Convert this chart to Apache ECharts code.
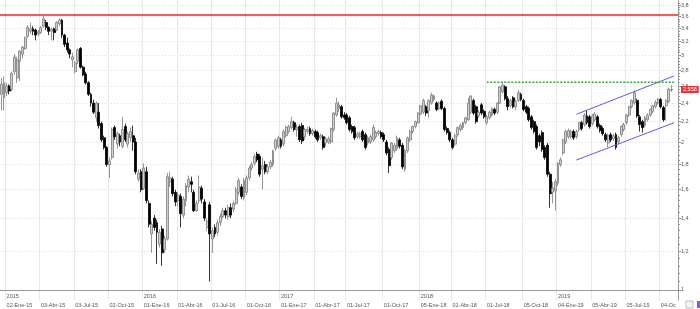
<!DOCTYPE html>
<html>
<head>
<meta charset="utf-8">
<script src="https://cdn.jsdelivr.net/npm/echarts@6/dist/echarts.min.js"></script>
<style>
  html, body { margin: 0; padding: 0; background: #fff; }
  #chart { width: 700px; height: 309px; }
</style>
</head>
<body>
<div id="chart"></div>
<script>
// velas semanales [apertura, cierre, mínimo, máximo]
const w2014 = [[2.50,2.62,2.32,2.70],[2.46,2.64,2.32,2.72]];
const w2015 = [
  [2.52,2.60,2.48,2.64],[2.60,2.54,2.50,2.62],[2.56,2.76,2.54,2.78],[2.78,2.98,2.74,3.02],
  [2.70,2.94,2.64,2.98],[2.92,3.06,2.66,3.08],[3.02,3.12,2.96,3.14],[3.10,3.26,3.08,3.28],
  [3.28,3.42,3.26,3.46],[3.36,3.40,3.32,3.50],[3.40,3.36,3.30,3.44],[3.38,3.30,3.22,3.40],
  [3.32,3.35,3.28,3.38],[3.34,3.42,3.32,3.44],[3.44,3.56,3.42,3.62],[3.50,3.42,3.38,3.54],
  [3.42,3.36,3.30,3.44],[3.36,3.39,3.22,3.42],[3.40,3.34,3.22,3.42],[3.38,3.50,3.36,3.52],
  [3.48,3.54,3.44,3.57],[3.54,3.30,3.26,3.56],[3.30,3.16,3.12,3.32],[3.18,3.08,3.04,3.26],
  [3.08,3.02,2.96,3.10],[2.94,2.98,2.84,3.04],[2.78,2.90,2.76,2.92],[2.92,3.08,2.88,3.10],
  [3.10,2.84,2.82,3.12],[2.84,2.74,2.72,2.86],[2.75,2.64,2.62,2.78],[2.64,2.50,2.48,2.66],
  [2.50,2.40,2.36,2.52],[2.40,2.30,2.28,2.44],[2.24,2.40,2.20,2.42],[2.30,2.16,2.13,2.40],
  [2.18,2.02,2.00,2.20],[2.04,1.95,1.93,2.06],[1.95,1.80,1.78,1.96],[1.80,1.83,1.69,1.86],
  [1.86,2.12,1.84,2.14],[2.14,2.05,2.02,2.16],[1.98,2.08,1.94,2.10],[2.06,2.00,1.96,2.08],
  [1.96,2.12,1.94,2.25],[2.15,2.02,2.00,2.18],[1.98,2.08,1.95,2.10],[2.04,2.10,2.00,2.14],
  [2.06,2.00,1.92,2.16],[2.00,1.74,1.72,2.04],[1.68,1.73,1.66,1.76],[1.74,1.60,1.58,1.76]
];
const w2016 = [
  [1.61,1.77,1.60,1.81],[1.74,1.52,1.50,1.78],[1.50,1.36,1.34,1.52],[1.30,1.36,1.19,1.38],
  [1.40,1.34,1.32,1.42],[1.37,1.31,1.13,1.39],[1.24,1.31,1.22,1.33],[1.33,1.19,1.12,1.35],
  [1.21,1.27,1.19,1.29],[1.27,1.70,1.26,1.73],[1.66,1.69,1.62,1.74],[1.68,1.57,1.55,1.70],
  [1.58,1.51,1.48,1.60],[1.52,1.56,1.48,1.58],[1.55,1.43,1.34,1.57],[1.42,1.53,1.40,1.55],
  [1.52,1.63,1.48,1.65],[1.62,1.68,1.58,1.71],[1.66,1.64,1.58,1.70],[1.58,1.45,1.44,1.60],
  [1.45,1.50,1.44,1.52],[1.52,1.62,1.50,1.71],[1.61,1.53,1.50,1.63],[1.51,1.40,1.38,1.53],
  [1.34,1.38,1.32,1.40],[1.49,1.30,1.04,1.51],[1.27,1.32,1.19,1.34],[1.34,1.30,1.28,1.36],
  [1.31,1.37,1.29,1.39],[1.37,1.41,1.35,1.43],[1.41,1.45,1.40,1.47],[1.45,1.42,1.40,1.47],
  [1.41,1.47,1.39,1.49],[1.47,1.42,1.40,1.50],[1.46,1.50,1.44,1.52],[1.50,1.60,1.49,1.62],
  [1.58,1.67,1.56,1.69],[1.62,1.55,1.53,1.64],[1.54,1.67,1.52,1.69],[1.58,1.69,1.56,1.71],
  [1.69,1.77,1.67,1.79],[1.77,1.80,1.75,1.82],[1.81,1.87,1.79,1.89],[1.89,1.84,1.82,1.91],
  [1.87,1.72,1.70,1.89],[1.76,1.79,1.60,1.86],[1.80,1.74,1.72,1.83],[1.74,1.78,1.72,1.80],
  [1.78,1.82,1.76,1.84],[1.80,1.92,1.78,1.93],[1.94,2.02,1.92,2.03],[1.96,2.04,1.94,2.06]
];
const w2017 = [
  [2.02,1.96,1.94,2.04],[1.98,2.10,1.96,2.12],[2.06,2.14,2.04,2.16],[2.10,2.15,2.08,2.17],
  [2.14,2.20,2.12,2.25],[2.19,2.12,2.10,2.21],[2.12,2.14,2.05,2.17],[2.15,2.02,2.00,2.17],
  [2.16,2.01,1.98,2.19],[2.05,2.12,2.02,2.14],[2.10,2.12,2.08,2.15],[2.13,2.08,2.06,2.15],
  [2.08,2.11,2.06,2.13],[2.10,2.05,2.03,2.12],[2.09,2.02,2.00,2.11],[2.04,2.06,2.02,2.08],
  [2.05,1.95,1.93,2.07],[1.99,2.03,1.96,2.05],[2.00,2.03,1.98,2.05],[2.00,2.13,1.98,2.14],
  [2.12,2.29,2.10,2.30],[2.27,2.40,2.25,2.46],[2.34,2.38,2.30,2.42],[2.36,2.25,2.23,2.38],
  [2.27,2.24,2.22,2.30],[2.27,2.19,2.17,2.29],[2.24,2.12,2.10,2.26],[2.15,2.10,2.08,2.17],
  [2.14,2.04,2.02,2.16],[2.05,2.08,2.03,2.10],[2.05,2.08,2.03,2.10],[2.10,2.02,2.00,2.12],
  [2.07,1.95,1.93,2.09],[1.99,2.04,1.97,2.06],[2.00,2.05,1.98,2.07],[2.02,2.14,2.00,2.17],
  [2.05,2.09,2.03,2.11],[2.08,2.10,2.06,2.12],[2.09,2.05,2.03,2.11],[2.07,2.02,2.00,2.09],
  [2.00,1.90,1.88,2.02],[1.93,1.79,1.73,1.95],[1.86,1.99,1.84,2.00],[1.92,1.97,1.90,1.99],
  [1.94,2.04,1.92,2.06],[2.02,1.96,1.94,2.04],[1.97,1.78,1.76,1.99],[1.76,1.92,1.74,1.94],
  [1.92,2.04,1.90,2.05],[2.02,2.10,2.00,2.12],[2.10,2.15,2.08,2.16],[2.15,2.20,2.13,2.21],
  [2.19,2.29,2.18,2.30]
];
const w2018 = [
  [2.28,2.37,2.27,2.38],[2.30,2.43,2.28,2.45],[2.36,2.29,2.26,2.38],[2.32,2.43,2.24,2.44],
  [2.40,2.49,2.38,2.52],[2.44,2.48,2.42,2.50],[2.40,2.33,2.31,2.42],[2.34,2.40,2.32,2.42],
  [2.42,2.34,2.32,2.44],[2.34,2.12,2.10,2.36],[2.13,2.09,2.07,2.15],[2.09,2.02,2.00,2.11],
  [2.02,1.95,1.93,2.04],[1.98,2.06,1.96,2.08],[2.07,2.14,2.05,2.15],[2.12,2.16,2.10,2.18],
  [2.14,2.19,2.12,2.20],[2.19,2.24,2.17,2.25],[2.22,2.40,2.21,2.46],[2.30,2.48,2.28,2.49],
  [2.43,2.29,2.27,2.45],[2.36,2.20,2.18,2.38],[2.26,2.30,2.24,2.32],[2.38,2.29,2.27,2.40],
  [2.31,2.25,2.23,2.33],[2.19,2.25,2.17,2.27],[2.24,2.30,2.22,2.32],[2.27,2.34,2.25,2.35],
  [2.33,2.29,2.27,2.35],[2.30,2.40,2.28,2.41],[2.40,2.59,2.39,2.60],[2.53,2.61,2.51,2.65],
  [2.59,2.45,2.43,2.61],[2.45,2.36,2.32,2.48],[2.37,2.43,2.35,2.45],[2.46,2.36,2.34,2.48],
  [2.36,2.42,2.32,2.44],[2.43,2.52,2.41,2.55],[2.50,2.44,2.42,2.52],[2.43,2.33,2.31,2.45],
  [2.36,2.30,2.28,2.38],[2.34,2.22,2.20,2.36],[2.25,2.14,2.12,2.27],[2.20,2.10,2.08,2.22],
  [2.15,1.95,1.93,2.17],[2.06,2.00,1.96,2.08],[2.09,1.93,1.91,2.11],[1.95,1.86,1.84,1.97],
  [1.97,1.72,1.70,1.99],[1.72,1.57,1.47,1.74],[1.58,1.61,1.50,1.66],[1.59,1.66,1.45,1.68]
];
const w2019 = [
  [1.65,1.81,1.63,1.82],[1.80,1.84,1.78,1.86],[1.90,2.02,1.88,2.03],[2.00,2.10,1.98,2.12],
  [2.05,2.11,2.03,2.13],[2.05,2.10,2.03,2.12],[2.10,2.04,2.02,2.12],[2.05,2.10,2.03,2.12],
  [2.12,2.19,2.10,2.20],[2.19,2.13,2.11,2.21],[2.17,2.27,2.15,2.29],[2.26,2.19,2.17,2.32],
  [2.25,2.15,2.13,2.27],[2.18,2.26,2.16,2.28],[2.22,2.28,2.20,2.30],[2.25,2.15,2.13,2.27],
  [2.16,2.11,2.09,2.18],[2.13,2.08,2.06,2.15],[2.07,2.02,2.00,2.09],[1.99,2.06,1.95,2.08],
  [2.07,2.02,2.00,2.09],[2.03,2.06,2.01,2.08],[2.07,1.95,1.93,2.09],[2.00,2.04,1.98,2.06],
  [2.07,2.15,2.05,2.16],[2.12,2.17,2.10,2.19],[2.19,2.27,2.17,2.28],[2.27,2.36,2.25,2.37],
  [2.36,2.43,2.34,2.44],[2.40,2.52,2.38,2.55],[2.43,2.26,2.24,2.45],[2.25,2.17,2.10,2.27],
  [2.20,2.14,2.09,2.22],[2.16,2.24,2.14,2.26],[2.22,2.27,2.20,2.29],[2.27,2.33,2.25,2.34],
  [2.31,2.37,2.29,2.38],[2.36,2.41,2.34,2.43],[2.40,2.44,2.38,2.46],[2.44,2.36,2.34,2.46],
  [2.35,2.22,2.20,2.37],[2.37,2.43,2.21,2.44],[2.42,2.56,2.40,2.58],[2.55,2.558,2.53,2.61]
];

// líneas dibujadas: [semana, precio]
const resistance = 3.6;
const channelUpper = [[218, 2.277], [255, 2.725]];
const channelLower = [[218, 1.838], [255, 2.189]];
const greenLevel = [[184, 2.645], [255, 2.645]];

// etiquetas de los ejes
const quarterLabels = ['02-Ene-15','03-Abr-15','03-Jul-15','02-Oct-15','01-Ene-16','01-Abr-16','01-Jul-16','01-Oct-16',
  '01-Ene-17','01-Abr-17','01-Jul-17','01-Oct-17','05-Ene-18','01-Abr-18','01-Jul-18','05-Oct-18',
  '04-Ene-19','05-Abr-19','05-Jul-19','04-Oc'];
const quarterWeeks = [2,15,28,41,54,67,80,93,106,119,131,145,159,171,184,198,211,224,237,250];
const yearLabels = ['2015','2016','2017','2018','2019'];
const yearWeeks = [2,54,106,159,211];
const yLabels = [1,1.2,1.4,1.6,1.8,2,2.2,2.4,2.6,2.8,3,3.2,3.4,3.6,3.8];
const yMin = 0.954, yMax = 3.89;

const lg = v => Math.log10(v);
const candles = [].concat(w2014, w2015, w2016, w2017, w2018, w2019);
const lastClose = w2019[w2019.length - 1][1];

// categorías: viernes desde el 19-dic-2014 (+2 semanas vacías a la derecha)
const meses = ['Ene','Feb','Mar','Abr','May','Jun','Jul','Ago','Sep','Oct','Nov','Dic'];
const weeks = [];
for (let i = 0; i < candles.length + 2; i++) {
  const d = new Date(Date.UTC(2014, 11, 19 + 7 * i));
  weeks.push(String(d.getUTCDate()).padStart(2, '0') + '-' + meses[d.getUTCMonth()] + '-' + String(d.getUTCFullYear()).slice(2));
}

const qMap = new Map(quarterWeeks.map((w, i) => [w, quarterLabels[i]]));
const yrMap = new Map(yearWeeks.map((w, i) => [w, yearLabels[i]]));
const minorTicks = [];
for (let v = 1; v <= 3.86; v += 0.04) minorTicks.push(lg(v));

const fmtNum = v => String(Math.round(Math.pow(10, v) * 10) / 10).replace('.', ',');
const txt = { fontSize: 5.5, color: '#555', fontFamily: 'Liberation Sans, Arial, sans-serif' };

const chart = echarts.init(document.getElementById('chart'));
chart.setOption({
  animation: false,
  backgroundColor: '#fff',
  grid: { left: 0, right: 22, top: 0, bottom: 9, outerBoundsMode: 'none' },
  xAxis: [{
    type: 'category',
    data: weeks,
    position: 'bottom',
    axisLine: { lineStyle: { color: '#9a9a9a', width: 1 } },
    axisTick: { alignWithLabel: true, interval: i => qMap.has(i), length: 3, lineStyle: { color: '#888' } },
    axisLabel: Object.assign({ interval: i => qMap.has(i), formatter: (v, i) => qMap.get(i), align: 'left', margin: 2 }, txt),
    splitLine: { show: true, interval: i => qMap.has(i), lineStyle: { color: '#e8e8e8', width: 1 } }
  }, {
    type: 'category',
    data: weeks,
    position: 'bottom',
    axisLine: { show: false },
    axisTick: { inside: true, alignWithLabel: true, interval: i => yrMap.has(i), length: 4, lineStyle: { color: '#888' } },
    axisLabel: Object.assign({ inside: true, interval: i => yrMap.has(i), formatter: (v, i) => yrMap.get(i), align: 'left', margin: 1 }, txt),
    splitLine: { show: false }
  }],
  yAxis: [{
    type: 'value', position: 'right', min: lg(yMin), max: lg(yMax),
    axisLine: { show: true, lineStyle: { color: '#999' } },
    axisTick: { show: true, customValues: yLabels.map(lg), length: 3, lineStyle: { color: '#888' } },
    axisLabel: Object.assign({ customValues: yLabels.map(lg), formatter: fmtNum, margin: 3 }, txt),
    splitLine: { show: true, lineStyle: { color: '#dcdcdc', type: [1, 2] } }
  }, {
    type: 'value', position: 'right', min: lg(yMin), max: lg(yMax),
    axisLine: { show: false },
    axisTick: { show: true, customValues: minorTicks, length: 2, lineStyle: { color: '#999' } },
    axisLabel: { show: false },
    splitLine: { show: false }
  }, {
    type: 'value', position: 'right', min: lg(yMin), max: lg(yMax), z: 10,
    axisLine: { show: false },
    axisTick: { show: false },
    axisLabel: Object.assign({}, txt, {
      customValues: [lg(lastClose)],
      formatter: () => lastClose.toFixed(3).replace('.', ','),
      color: '#fff', backgroundColor: '#e8343c', padding: [1, 2, 0, 2], margin: 3
    }),
    splitLine: { show: false }
  }],
  series: [{
    type: 'candlestick',
    data: candles.map(r => r.map(lg)),
    barWidth: 2.4,
    itemStyle: { color: '#cfcfcf', color0: '#000', borderColor: '#7c7c7c', borderColor0: '#000', borderWidth: 0.8 },
    markLine: {
      silent: true, symbol: 'none', label: { show: false },
      lineStyle: { color: '#f0282d', width: 1.5, type: 'solid' },
      data: [{ yAxis: lg(resistance) }]
    }
  }, {
    type: 'line', data: channelUpper.map(p => [p[0], lg(p[1])]), symbol: 'none',
    lineStyle: { color: '#5a5af0', width: 1 }
  }, {
    type: 'line', data: channelLower.map(p => [p[0], lg(p[1])]), symbol: 'none',
    lineStyle: { color: '#5a5af0', width: 1 }
  }, {
    type: 'line', data: greenLevel.map(p => [p[0], lg(p[1])]), symbol: 'none',
    lineStyle: { color: '#2ea82e', width: 1.5, type: [2, 1.5] }
  }],
  graphic: [
    { type: 'rect', shape: { x: 686, y: 301, width: 7, height: 7 }, style: { fill: '#f4f4f4', stroke: '#bdbdbd', lineWidth: 1 } },
    { type: 'rect', shape: { x: 697, y: 301, width: 3, height: 7 }, style: { fill: '#8a55e0' } }
  ]
});
</script>
</body>
</html>
